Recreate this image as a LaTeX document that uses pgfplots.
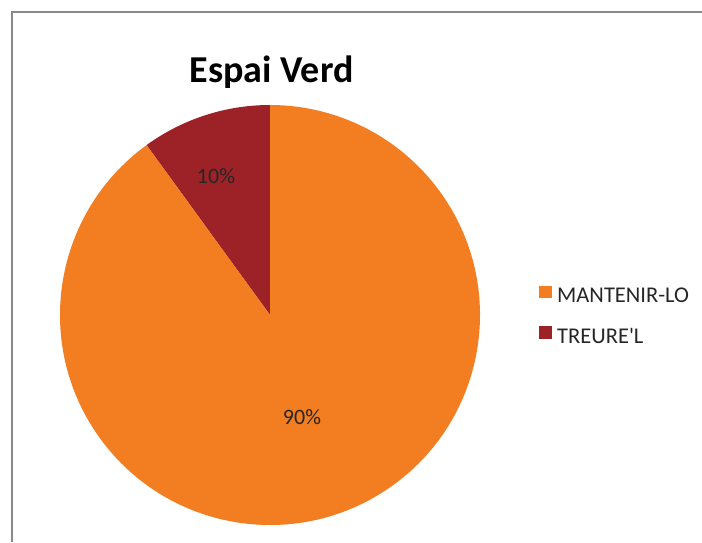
\documentclass[border=0pt]{standalone}
\usepackage{pgfplots}
\pgfplotsset{compat=1.18}
\usepackage{pgfplotstable}
\usepackage{fontspec}
\setmainfont{Carlito}[Ligatures=TeXOff]
\definecolor{pieOrange}{HTML}{F37E22}
\definecolor{pieRed}{HTML}{9D2227}
\definecolor{frameGray}{HTML}{8A8A8A}
\definecolor{txt}{HTML}{262626}
\pgfplotstableread[col sep=comma]{
label,value
MANTENIR-LO,90
TREURE'L,10
}\piedata
\newcommand{\legfont}{\fontsize{22.5}{26}\selectfont}
\begin{document}
\begin{tikzpicture}
\path[use as bounding box] (0,0) rectangle (702pt,542pt);
\pgfplotstablegetelem{0}{value}\of\piedata \let\valA\pgfplotsretval
\pgfplotstablegetelem{1}{value}\of\piedata \let\valB\pgfplotsretval
\pgfmathsetmacro{\angB}{90+3.6*\valB}
\pgfmathsetmacro{\angEnd}{\angB+3.6*\valA}
\begin{axis}[at={(0,0)}, anchor=south west, width=702pt, height=542pt,
  scale only axis, xmin=0, xmax=702, ymin=0, ymax=542, hide axis, clip=false,
  legend style={at={(axis cs:539,225.5)}, anchor=west, draw=none, fill=none,
    font=\legfont, text=txt, row sep=20pt, inner sep=0pt,
    cells={anchor=west}},
  legend image code/.code={}]
\fill[pieRed] (axis cs:270,227) -- ++(90:210pt) arc[start angle=90,end angle=\angB,radius=210pt] -- cycle;
\fill[pieOrange] (axis cs:270,227) -- ++(\angB:210pt) arc[start angle=\angB,end angle=\angEnd,radius=210pt] -- cycle;
\node[font=\fontsize{22}{26}\selectfont, text=txt] at (axis cs:216,366) {\valB\%};
\node[font=\fontsize{22}{26}\selectfont, text=txt] at (axis cs:302,125) {\valA\%};
\node[font=\fontsize{38}{42}\selectfont\bfseries, text=black, anchor=base, inner sep=0pt] at (axis cs:271.5,459) {Espai Verd};
\draw[frameGray, line width=1.5pt] (axis cs:12,0) -- (axis cs:12,530) -- (axis cs:702,530);
\addlegendimage{legend image code/.code={\path[draw=none,fill=none] (0pt,4.5pt) -- (16pt,4.5pt); \fill[pieOrange,draw=none] (0pt,-1.75pt) rectangle (12.5pt,10.75pt);}}
\addlegendentry{\legfont MANTENIR-LO}
\addlegendimage{legend image code/.code={\path[draw=none,fill=none] (0pt,4.5pt) -- (16pt,4.5pt); \fill[pieRed,draw=none] (0pt,-1.75pt) rectangle (12.5pt,10.75pt);}}
\addlegendentry{\legfont TREURE'L}
\end{axis}
\end{tikzpicture}
\end{document}
